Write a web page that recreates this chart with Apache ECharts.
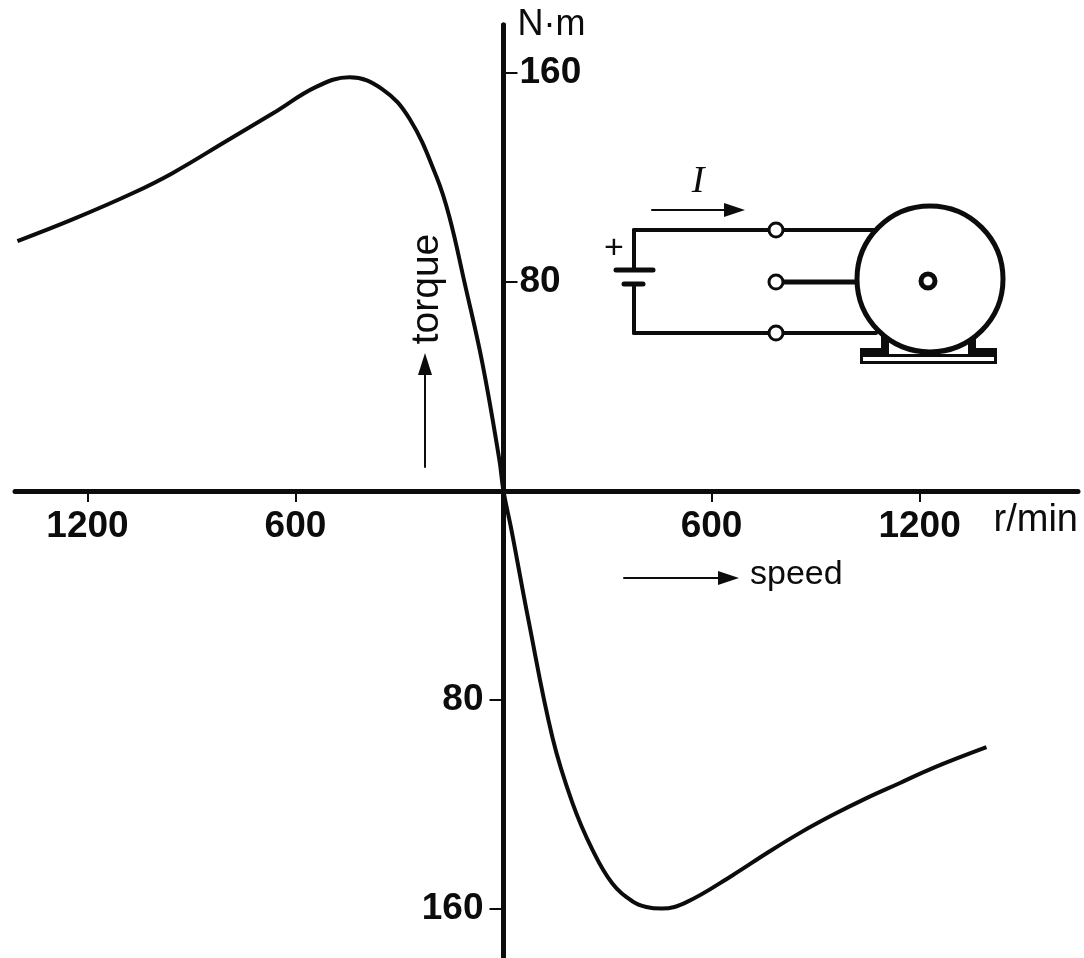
<!DOCTYPE html>
<html>
<head>
<meta charset="utf-8">
<title>torque speed</title>
<script src="https://cdn.jsdelivr.net/npm/echarts@6/dist/echarts.min.js"></script>
<style>
  html, body { margin: 0; padding: 0; background: #fff; }
  #chart { width: 1084px; height: 958px; }
</style>
</head>
<body>
<div id="chart"></div>
<script>
// curve, speed in r/min, torque in N.m
var speed = [-1402, -1243, -1070, -955, -799, -666, -539, -444, -349, -271, -193, -156, -112, -61, -12, 0, 23, 72, 141, 199, 257, 314, 372, 412, 456, 528, 661, 759, 854, 949, 1047, 1142, 1238, 1393]
var torque = [95.7, 104, 114, 121.7, 134, 144.5, 154.8, 158.4, 153.8, 142.5, 120.2, 104.9, 79.6, 49, 12, 0, -14.9, -49.4, -94.2, -119.4, -137.4, -150.2, -157, -159.2, -159.8, -157.3, -147, -138.6, -130.9, -124, -117.5, -111.8, -106, -98]

var speedTicks = [-1200, -600, 600, 1200]
var torqueTicksUp = [80, 160]
var torqueTicksDown = [-160, -80]

var INK = '#0c0c0c'
var FONT = '"Liberation Sans", Arial, sans-serif'

function line(x1, y1, x2, y2, w) {
  return {
    type: 'line',
    shape: { x1: x1, y1: y1, x2: x2, y2: y2 },
    style: { stroke: INK, lineWidth: w, lineCap: 'round' }
  }
}

function poly(points) {
  return { type: 'polygon', shape: { points: points }, style: { fill: INK } }
}

function box(x, y, w, h) {
  return { type: 'rect', shape: { x: x, y: y, width: w, height: h }, style: { fill: INK } }
}

function ring(cx, cy, r, w) {
  return {
    type: 'circle',
    shape: { cx: cx, cy: cy, r: r },
    style: { fill: '#fff', stroke: INK, lineWidth: w }
  }
}

function label(text, x, y, size) {
  return {
    type: 'text',
    x: x,
    y: y,
    style: { text: text, fill: INK, font: size + 'px ' + FONT, textAlign: 'left', textVerticalAlign: 'middle' }
  }
}

var sketch = [
  // arrows and their captions
  line(652, 210, 726, 210, 2),
  poly([[724, 203], [745, 210], [724, 217]]),
  line(624, 578, 720, 578, 2),
  poly([[718, 571], [739, 578], [718, 585]]),
  line(425, 467, 425, 372, 2),
  poly([[418, 375], [425, 353], [432, 375]]),
  label('speed', 750, 575, 34),
  {
    type: 'text',
    x: 427,
    y: 289,
    rotation: Math.PI / 2,
    style: { text: 'torque', fill: INK, font: '39px ' + FONT, textAlign: 'center', textVerticalAlign: 'middle' }
  },
  {
    type: 'text',
    x: 698,
    y: 182,
    style: { text: 'I', fill: INK, font: 'italic 38px "Liberation Serif", serif', textAlign: 'center', textVerticalAlign: 'middle' }
  },
  // circuit
  line(634, 230, 876, 230, 4),
  line(634, 230, 634, 270, 4),
  line(634, 285, 634, 333, 4),
  line(634, 333, 876, 333, 4),
  line(782, 282, 856, 282, 5),
  line(616, 270, 653, 270, 5),
  line(624, 284, 643, 284, 5),
  label('+', 604, 249, 34),
  ring(776, 230, 7, 3),
  ring(776, 282, 7, 3),
  ring(776, 333, 7, 3),
  // motor and feet
  box(860, 348, 29, 8),
  box(881, 335, 8, 14),
  box(968, 348, 29, 8),
  box(968, 338, 8, 11),
  {
    type: 'rect',
    shape: { x: 861.5, y: 355.5, width: 134, height: 7 },
    style: { fill: '#fff', stroke: INK, lineWidth: 3 }
  },
  ring(930, 279, 73, 5),
  ring(928, 281, 7, 5)
]

var chart = echarts.init(document.getElementById('chart'), null, { renderer: 'canvas' })
chart.setOption({
  animation: false,
  backgroundColor: '#fff',
  grid: { left: 15, right: 6, top: 25, bottom: 0, outerBoundsMode: 'none' },
  xAxis: {
    type: 'value',
    position: 'bottom',
    offset: -467,
    min: -1409,
    max: 1657,
    name: 'r/min',
    nameLocation: 'end',
    nameGap: 0,
    nameTextStyle: {
      color: INK,
      fontFamily: FONT,
      fontSize: 38,
      align: 'right',
      verticalAlign: 'top',
      padding: [11, 0, 0, 0]
    },
    splitLine: { show: false },
    axisLine: { onZero: false, lineStyle: { color: INK, width: 5 } },
    axisTick: { customValues: speedTicks, length: 11, lineStyle: { color: INK, width: 2 } },
    axisLabel: {
      customValues: speedTicks,
      formatter: function (v) { return Math.abs(v) },
      color: INK,
      fontFamily: FONT,
      fontWeight: 'bold',
      fontSize: 37,
      margin: 17
    }
  },
  yAxis: [
    {
      type: 'value',
      position: 'left',
      offset: -488.5,
      min: -178.7,
      max: 178.4,
      name: 'N·m',
      nameLocation: 'end',
      nameGap: 0,
      nameTextStyle: {
        color: INK,
        fontFamily: FONT,
        fontSize: 36,
        align: 'left',
        verticalAlign: 'middle',
        padding: [0, 0, 0, 14]
      },
      splitLine: { show: false },
      axisLine: { onZero: false, lineStyle: { color: INK, width: 5 } },
      axisTick: { customValues: torqueTicksUp, inside: true, length: 14, lineStyle: { color: INK, width: 2 } },
      axisLabel: {
        customValues: torqueTicksUp,
        inside: true,
        color: INK,
        fontFamily: FONT,
        fontWeight: 'bold',
        fontSize: 37,
        margin: 16,
        padding: [9, 0, 0, 0]
      }
    },
    {
      type: 'value',
      position: 'left',
      offset: -488.5,
      min: -178.7,
      max: 178.4,
      splitLine: { show: false },
      axisLine: { onZero: false, lineStyle: { color: INK, width: 5 } },
      axisTick: { customValues: torqueTicksDown, length: 14, lineStyle: { color: INK, width: 2 } },
      axisLabel: {
        customValues: torqueTicksDown,
        formatter: function (v) { return Math.abs(v) },
        color: INK,
        fontFamily: FONT,
        fontWeight: 'bold',
        fontSize: 37,
        margin: 20,
        padding: [5, 0, 0, 0]
      }
    }
  ],
  series: [
    {
      type: 'line',
      data: speed.map(function (s, i) { return [s, torque[i]] }),
      showSymbol: false,
      smooth: 0.4,
      clip: false,
      lineStyle: { color: INK, width: 4 }
    }
  ],
  graphic: { elements: sketch }
})
</script>
</body>
</html>
